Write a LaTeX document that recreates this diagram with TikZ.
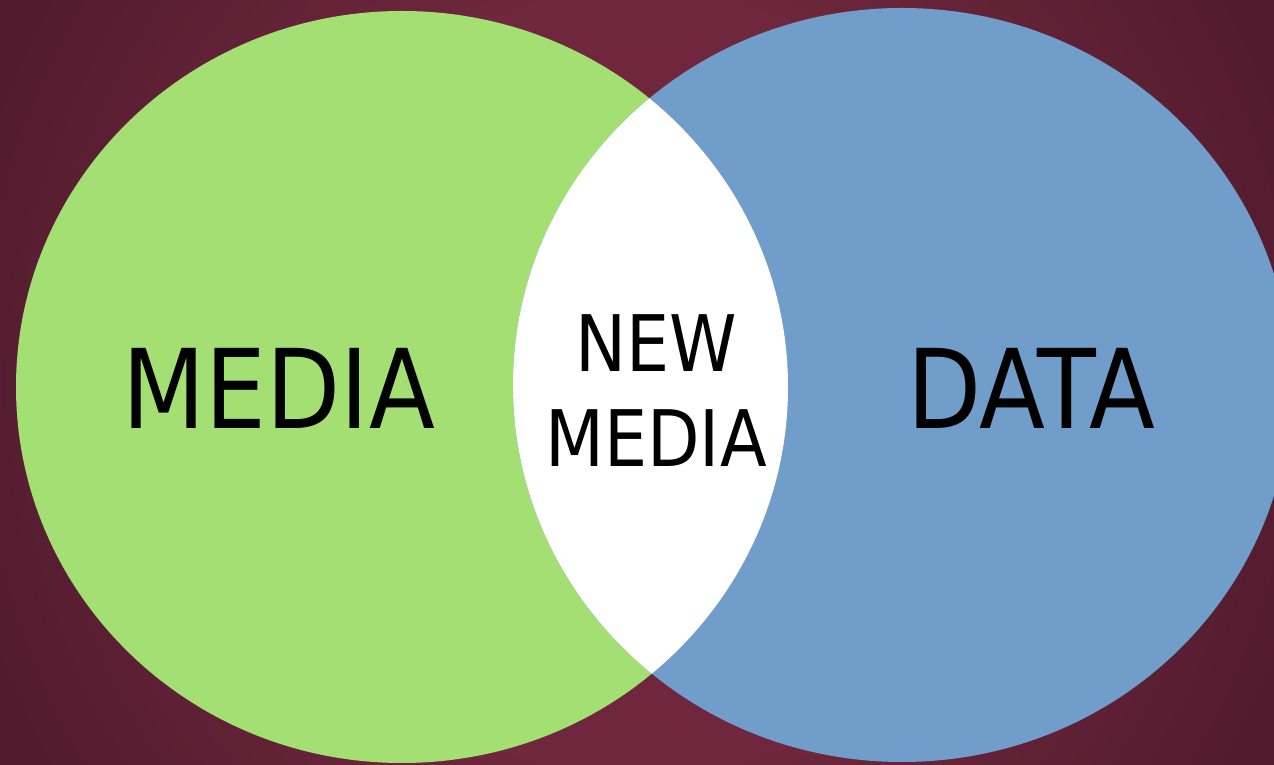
\documentclass[tikz,border=0pt]{standalone}
\usepackage{fontspec}
\newfontfamily\dvfont[FakeStretch=0.875]{DejaVu Sans}
\definecolor{bgin}{HTML}{74293F}
\definecolor{bgtop}{HTML}{6F273D}
\definecolor{bgmid}{HTML}{561D30}
\definecolor{bgout}{HTML}{4F1A2B}
\definecolor{mediagreen}{HTML}{A4DF74}
\definecolor{datablue}{HTML}{719DCA}
\pgfdeclareradialshading{bgshade}{\pgfpoint{0bp}{0bp}}{%
  color(0bp)=(bgin); color(14bp)=(bgtop); color(25bp)=(bgmid); color(30bp)=(bgout); color(50bp)=(bgout)}
\tikzset{
  bigword/.style={inner sep=0pt, text=black, font=\dvfont\fontsize{110}{132}\selectfont},
  smallword/.style={inner sep=0pt, text=black, align=center, font=\dvfont\fontsize{78}{95}\selectfont}
}
\begin{document}
\begin{tikzpicture}[x=1pt,y=1pt]
  \useasboundingbox (0,0) rectangle (1274,765);
  \begin{scope}
    \clip (0,0) rectangle (1274,765);
    \shade[shading=bgshade] (0,-300) rectangle (1274,1065);
  \end{scope}
  % circles
  \fill[mediagreen] (402,378) ellipse [x radius=386, y radius=376];
  \fill[datablue] (902,380) ellipse [x radius=389, y radius=377];
  \begin{scope}
    \clip (402,378) ellipse [x radius=386, y radius=376];
    \fill[white] (902,380) ellipse [x radius=389, y radius=377];
  \end{scope}
  % labels
  \node[bigword] (media) at (279,377) {MEDIA};
  \node[bigword] (data) at (1031,377) {DATA};
  \node[smallword] (newmedia) at (656,374) {NEW\\MEDIA};
\end{tikzpicture}
\end{document}
